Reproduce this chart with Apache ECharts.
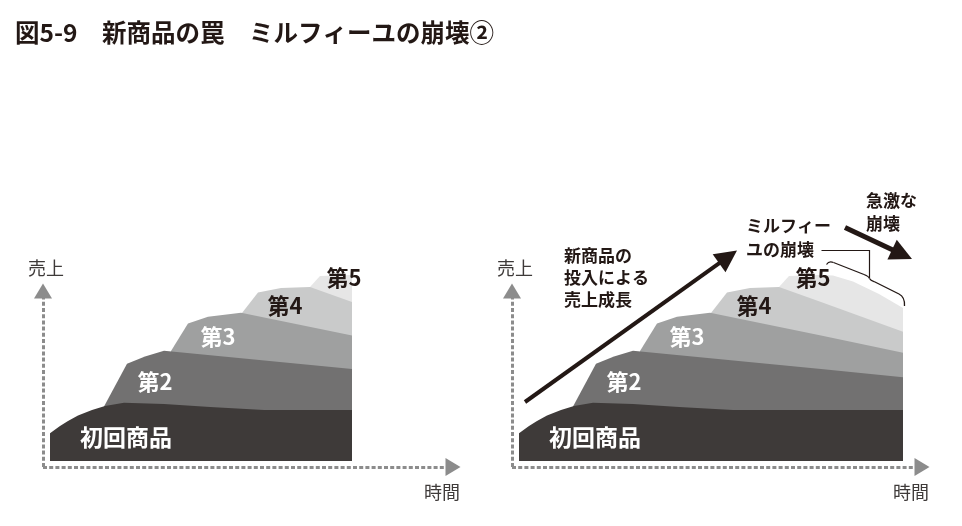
<!DOCTYPE html>
<html><head><meta charset="utf-8">
<script src="https://cdn.jsdelivr.net/npm/echarts@6/dist/echarts.min.js"></script>
<style>html,body{margin:0;padding:0;background:#fff}#c{width:962px;height:526px}</style>
</head><body><div id="c"></div>
<script>
// ---- data (time, sales) ----
const layerNames = ['初回商品', '第2', '第3', '第4', '第5'];
const layer1 = [[0,27.7],[10,35],[18,40],[28,45.5],[42,51],[55,55],[74,58.3],[114,57],[160,54],[214,51],[302,51],[384,51]];
const layer2 = [[54,54.5],[77,97.3],[95,104.5],[114,110.3],[302,92],[384,83.7]];
const layer3 = [[121,110],[138,137.5],[158,144.3],[191,148.3],[302,125.5],[384,108.3]];
const layer4 = [[192,148],[208,168.5],[231,173],[260,174],[302,159],[384,129.3]];
const layer5 = [[260,174],[270,185],[302,186],[314,185.5],[334,179.5],[360,167],[384,153]];
const leftPanelEnd = 302;
const xRange = [-7, 403];
const yRange = [-6, 170];

const title = '図5-9　新商品の罠　ミルフィーユの崩壊②';
const yName = '売上', xName = '時間';
const growthText = '新商品の\n投入による\n売上成長';
const collapseText = 'ミルフィー\nユの崩壊';
const suddenText = '急激な\n崩壊';

// ---- styles ----
const layers = [layer1, layer2, layer3, layer4, layer5];
const colors = ['#3e3a39', '#727171', '#9fa0a0', '#c9caca', '#e6e6e6'];
const labelColors = ['#ffffff', '#ffffff', '#ffffff', '#231815', '#231815'];
const FF = '"Noto Sans CJK JP", "Noto Sans", sans-serif';
const INK = '#231815';
const panelShift = 469;
const labelPos = [[126,437],[155,382],[218,337],[285,306],[344,278]];

function panelSeries(g, clip) {
  return layers.map((d, i) => ({
    type: 'line', xAxisIndex: g, yAxisIndex: g,
    data: clip ? d.filter(p => p[0] <= leftPanelEnd) : d,
    symbol: 'none', showSymbol: false, silent: true, clip: false,
    lineStyle: { width: 0 },
    areaStyle: { color: colors[i], opacity: 1, origin: 'auto' },
    z: 10 - i
  }));
}

const axisLine = {
  show: true, onZero: false, symbol: ['none', 'triangle'], symbolSize: [18, 15],
  lineStyle: { color: '#8c8c8c', width: 3, type: [4, 2.2], cap: 'butt' }
};
const hidden = { axisTick: { show: false }, axisLabel: { show: false }, splitLine: { show: false } };

function arrow(x1, y1, x2, y2, w, hl, hh) {
  const a = Math.atan2(y2 - y1, x2 - x1);
  const c = Math.cos(a), s = Math.sin(a);
  const bx = x2 - hl * c, by = y2 - hl * s;
  return [
    { type: 'line', z: 100, shape: { x1, y1, x2: bx + 2 * c, y2: by + 2 * s }, style: { stroke: INK, lineWidth: w } },
    { type: 'polygon', z: 100, shape: { points: [[x2, y2], [bx - s * hh, by + c * hh], [bx + s * hh, by - c * hh]] }, style: { fill: INK } }
  ];
}
function txt(text, x, y, size, weight, fill, align, vAlign, lh) {
  return { type: 'text', z: 100, style: { text, x, y, fill, font: `${weight} ${size}px ${FF}`, align: align || 'center', verticalAlign: vAlign || 'middle', lineHeight: lh } };
}

const graphics = [txt(title, 15, 33, 24.5, 'bold', INK, 'left')];
[0, panelShift].forEach(dx => {
  layerNames.forEach((n, i) => graphics.push(txt(n, labelPos[i][0] + dx, labelPos[i][1], i === 0 ? 23 : 22, 'bold', labelColors[i])));
  graphics.push(txt(yName, 46 + dx, 268, 18, 'normal', '#3e3a39'));
  graphics.push(txt(xName, 442 + dx, 492, 18, 'normal', '#3e3a39'));
});
graphics.push(txt(growthText, 564, 245, 17, 'bold', INK, 'left', 'top', 22));
graphics.push(txt(collapseText, 746, 214, 17, 'bold', INK, 'left', 'top', 23.5));
graphics.push(txt(suddenText, 866, 189, 17, 'bold', INK, 'left', 'top', 23));
graphics.push(...arrow(525, 402, 737, 250.5, 4, 22, 11));
graphics.push(...arrow(845, 227.5, 912, 259, 5, 22, 11));
graphics.push({ type: 'polyline', z: 100, shape: { points: [[821.5,250.5],[869.5,250.5],[869.5,278]] }, style: { stroke: INK, lineWidth: 1.2, fill: null } });
const brace = { stroke: INK, lineWidth: 1.3, fill: null };
graphics.push(
  { type: 'bezierCurve', z: 100, shape: { x1: 826.5, y1: 264.5, cpx1: 829, cpy1: 260.5, x2: 833.5, y2: 262.5 }, style: brace },
  { type: 'line', z: 100, shape: { x1: 833.5, y1: 262.5, x2: 864, y2: 274.5 }, style: brace },
  { type: 'bezierCurve', z: 100, shape: { x1: 864, y1: 274.5, cpx1: 869, cpy1: 276.5, x2: 869.5, y2: 278.5 }, style: brace },
  { type: 'bezierCurve', z: 100, shape: { x1: 869.5, y1: 278.5, cpx1: 870.5, cpy1: 280.5, x2: 874, y2: 281.5 }, style: brace },
  { type: 'line', z: 100, shape: { x1: 874, y1: 281.5, x2: 899, y2: 294 }, style: brace },
  { type: 'bezierCurve', z: 100, shape: { x1: 899, y1: 294, cpx1: 905, cpy1: 297, x2: 904.5, y2: 306 }, style: brace }
);

const chart = echarts.init(document.getElementById('c'), null, { renderer: 'canvas' });
chart.setOption({
  backgroundColor: '#ffffff',
  animation: false,
  grid: [
    { left: 43, top: 291, width: 410, height: 176 },
    { left: 512, top: 291, width: 410, height: 176 }
  ],
  xAxis: [0, 1].map(g => Object.assign({ type: 'value', gridIndex: g, min: xRange[0], max: xRange[1], axisLine }, hidden)),
  yAxis: [0, 1].map(g => Object.assign({ type: 'value', gridIndex: g, min: yRange[0], max: yRange[1], axisLine }, hidden)),
  series: [...panelSeries(0, true), ...panelSeries(1, false)],
  graphic: { elements: graphics }
});
</script>
</body></html>
